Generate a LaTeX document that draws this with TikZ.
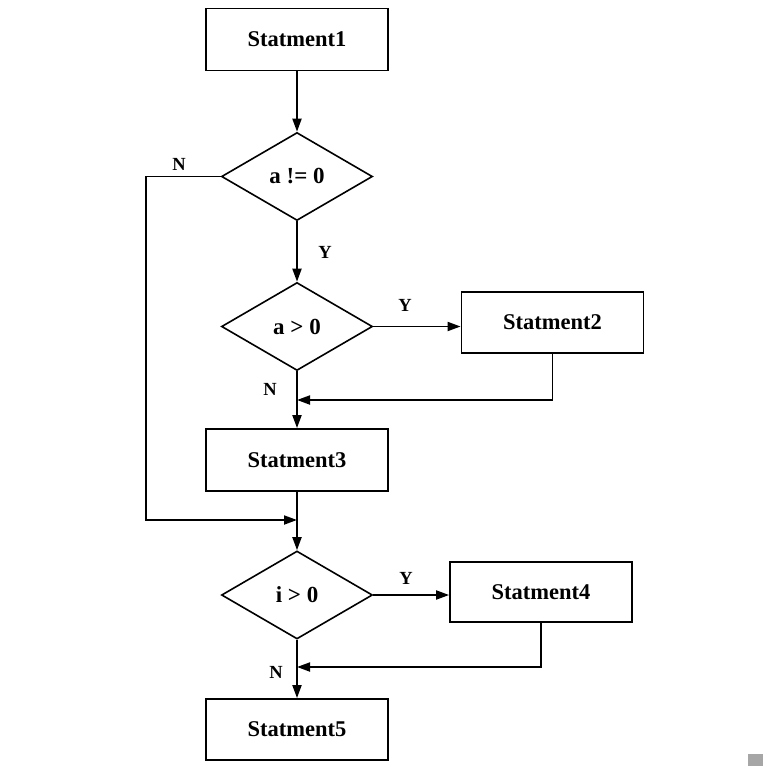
\documentclass[tikz,border=0pt]{standalone}
\usepackage{fontspec}
\setmainfont{Liberation Serif}
\usetikzlibrary{shapes.geometric,arrows.meta}
\tikzset{
  box/.style={draw, line width=1.8pt, minimum width=182pt, minimum height=62pt, inner sep=0pt, font=\bfseries\fontsize{22.5}{26}\selectfont},
  dia/.style={draw, diamond, line width=1.6pt, minimum width=151pt, minimum height=88pt, inner sep=0pt, font=\bfseries\fontsize{23}{26}\selectfont},
  lab/.style={font=\bfseries\fontsize{18.5}{20}\selectfont, inner sep=0pt},
  arr/.style={line width=1.9pt, -{Triangle[length=13pt,width=9pt]}},
}
\begin{document}
\begin{tikzpicture}[x=1pt,y=-1pt]
\useasboundingbox (0,0) rectangle (763,766);
\node[box] (s1) at (297,39.5) {Statment1};
\node[dia] (d1) at (297,176.5) {a != 0};
\node[dia] (d2) at (297,326.5) {a > 0};
\node[box, minimum height=61pt] (s2) at (552.5,322.5) {Statment2};
\node[box] (s3) at (297,460) {Statment3};
\node[dia] (d3) at (297,595) {i > 0};
\node[box, minimum height=60pt] (s4) at (541,592) {Statment4};
\node[box, minimum height=61pt] (s5) at (297,729.5) {Statment5};
\coordinate (j1) at (297,400);
\coordinate (j2) at (297,520);
\coordinate (j3) at (297,667);
\coordinate (lft) at (146,520);
\draw[arr] (s1) -- (d1);
\draw[arr] (d1) -- (d2);
\draw[arr] (d2.east) -- (d2.east -| s2.west);
\draw[arr] (d2) -- (s3);
\draw[arr] (s2.south) |- (j1);
\draw[arr] (d1.west) -| (lft) -- (j2);
\draw[arr] (s3) -- (d3);
\draw[arr] (d3.east) -- (d3.east -| s4.west);
\draw[arr] (s4.south) |- (j3);
\draw[arr] (d3) -- (s5);
\node[lab] (n1) at (179,164) {N};
\node[lab] (y1) at (325,252) {Y};
\node[lab] (y2) at (405,305) {Y};
\node[lab] (n2) at (270,389) {N};
\node[lab] (y3) at (406,578) {Y};
\node[lab] (n3) at (276,672) {N};
\fill[gray!70] (748,754) rectangle (763,766);
\end{tikzpicture}
\end{document}
